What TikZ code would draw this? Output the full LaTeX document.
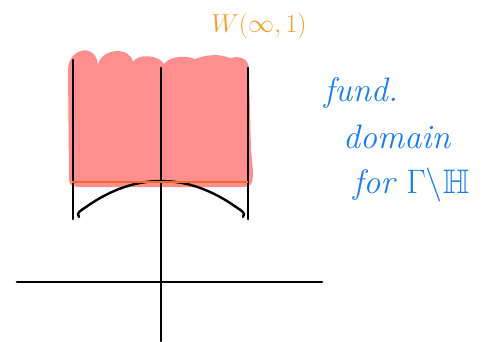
\documentclass[tikz,border=0pt]{standalone}
\usepackage{fix-cm}
\usepackage{amssymb}
\definecolor{pinkfill}{HTML}{FF8F8F}
\definecolor{orangetxt}{HTML}{F5A02A}
\definecolor{orangeline}{HTML}{F26A1E}
\definecolor{bluetxt}{HTML}{1A7EF2}
\tikzset{
  ink/.style={line width=2.8pt, black, line cap=round, line join=round},
  bluelabel/.style={text=bluetxt, font=\fontsize{34}{38}\selectfont\itshape, inner sep=0pt, anchor=west},
}
\begin{document}
\begin{tikzpicture}[x=1pt,y=-1pt]
\useasboundingbox (0,0) rectangle (503,341);
% pink region with bumpy top
\fill[pinkfill] (69,176) -- (68,70)
  .. controls (68,48) and (96,42) .. (98,65)
  .. controls (101,48) and (130,46) .. (133,62)
  .. controls (137,54) and (158,54) .. (164,64)
  .. controls (170,56) and (185,55) .. (195,59)
  .. controls (208,54) and (220,54) .. (230,58)
  .. controls (242,55) and (250,60) .. (249,72)
  -- (251,150) -- (253,172)
  .. controls (253,186) and (250,187) .. (240,187)
  -- (80,187)
  .. controls (70,187) and (68,183) .. (69,176) -- cycle;
% vertical strip lines
\draw[ink] (73,60) -- (73,219);
\draw[ink] (248,68) -- (248,219);
% axes
\draw[ink] (17,282) -- (322,282);
\draw[ink] (161,68) -- (161,341);
% unit circle arc
\draw[ink, line width=2.4pt] (79,217) .. controls (76,213) and (80,211) .. (86,207)
  .. controls (110,190) and (135,181) .. (161,181)
  .. controls (187,181) and (212,190) .. (236,207)
  .. controls (242,211) and (246,213) .. (243,217);
% orange horizontal line
\draw[orangeline, line width=2.4pt] (72,182) -- (248,182);
% labels
\node[text=orangetxt, font=\fontsize{26}{30}\selectfont, inner sep=0pt] (w) at (259,26) {$W(\infty,1)$};
\node[bluelabel] (l1) at (324,93) {fund.};
\node[bluelabel] (l2) at (343,137) {domain};
\node[bluelabel] (l3) at (353,185) {for $\Gamma\backslash\mathbb{H}$};
\end{tikzpicture}
\end{document}
